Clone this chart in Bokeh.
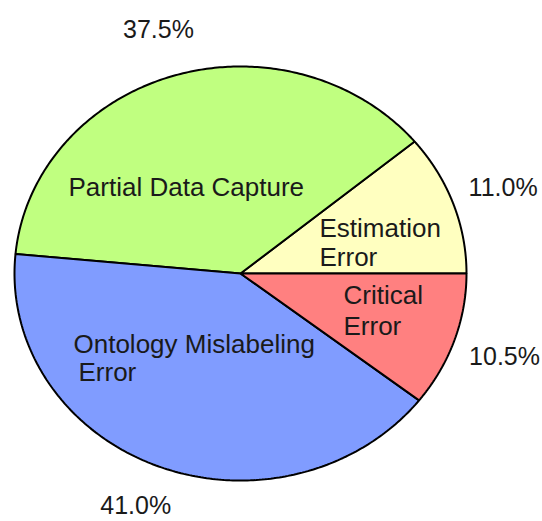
import numpy as np
from bokeh.plotting import figure
from bokeh.models import Range1d, ColumnDataSource
from bokeh.core.properties import value
from bokeh.embed import file_html
from bokeh.resources import INLINE

# ---- data ----
categories = ["Estimation Error", "Partial Data Capture", "Ontology Mislabeling Error", "Critical Error"]
shares = [11.0, 37.5, 41.0, 10.5]
pct_labels = ["11.0%", "37.5%", "41.0%", "10.5%"]
colors = ["#FFFFC0", "#C0FF80", "#809CFF", "#FF8080"]
label_lines = [["Estimation", "Error"], ["Partial Data Capture"],
               ["Ontology Mislabeling", "Error"], ["Critical", "Error"]]

# ---- layout (pixels) ----
W, H = 542, 521
CX, CY = 240, 273          # pie centre in pixels (from top-left)
RX, RY = 226, 207          # ellipse radii in pixels

def px(x, y):
    """pixel -> data coords (unit ellipse)"""
    return (x - CX) / RX, (CY - y) / RY

# per-line label anchors (left x, vertical centre of capitals), pixels
line_pos = [[(319, 227), (319, 256)], [(68, 186)],
            [(73, 343), (78, 371)], [(343, 294), (343, 325)]]
# radial distance of percentage labels (in radii)
pct_r = [1.235, 1.235, 1.205, 1.235]

p = figure(width=W, height=H, output_backend="svg", toolbar_location=None,
           x_range=Range1d(-CX / RX, (W - CX) / RX),
           y_range=Range1d(-(H - CY) / RY, CY / RY),
           min_border=0)
p.axis.visible = False
p.grid.visible = False
p.outline_line_color = None
p.background_fill_color = "white"
p.border_fill_color = "white"

fr = np.array(shares) / sum(shares)
ends = np.cumsum(fr) * 2 * np.pi
starts = np.concatenate([[0], ends[:-1]])

xs, ys = [], []
for a0, a1 in zip(starts, ends):
    t = np.linspace(a0, a1, 200)
    xs.append(np.concatenate([[0], np.cos(t), [0]]))
    ys.append(np.concatenate([[0], np.sin(t), [0]]))

src = ColumnDataSource(dict(xs=xs, ys=ys, color=colors, cat=categories))
p.patches("xs", "ys", source=src, fill_color="color", line_color="black", line_width=2)

# percentage labels outside along mid angle
mid = (starts + ends) / 2
r_lab = np.array(pct_r)
p.text(x=list(r_lab * np.cos(mid) - np.array([0, 0, 0.02, 0])), y=list(r_lab * np.sin(mid)),
       text=pct_labels,
       text_font=value("Liberation Sans"), text_font_size="25px", text_color="#1a1a1a",
       text_align="center", text_baseline="middle")

# category labels inside, one glyph row per line
tx, ty, tt = [], [], []
for lines, poss in zip(label_lines, line_pos):
    for s, (a, b) in zip(lines, poss):
        dx, dy = px(a, b)
        tx.append(dx)
        ty.append(dy)
        tt.append(s)
p.text(x=tx, y=ty, text=tt,
       text_font=value("Liberation Sans"), text_font_size="26px", text_color="#1a1a1a",
       text_align="left", text_baseline="middle")

open("out.html", "w").write(file_html(p, INLINE))
